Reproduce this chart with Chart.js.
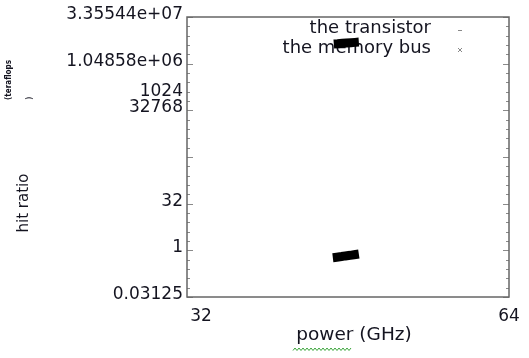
<!DOCTYPE html>
<html>
<head>
<meta charset="utf-8">
<script src="https://cdn.jsdelivr.net/npm/chart.js@4/dist/chart.umd.min.js"></script>
<style>
  html, body { margin: 0; padding: 0; background: #fff; }
</style>
</head>
<body>
<canvas id="chart" width="529" height="358"></canvas>
<script>
// series
const transistorPower = [45.8, 46.2, 46.7, 47.1, 47.6, 48.0, 48.4];
const transistorHits = [4.5e6, 4.6e6, 4.8e6, 4.9e6, 5.0e6, 5.1e6, 5.2e6];
const memoryBusPower = [45.7, 46.1, 46.6, 47.0, 47.5, 47.9, 48.4];
const memoryBusHits = [0.58, 0.60, 0.63, 0.66, 0.69, 0.72, 0.76];

// axis ticks (the "1024" label sits where the original plot put it)
const xTickValues = [32, 64];
const xTickLabels = ['32', '64'];
const yTickValues = [0.03125, 1, 32, 32768, 108700, 1048576, 33554432];
const yTickLabels = ['0.03125', '1', '32', '32768', '1024', '1.04858e+06', '3.35544e+07'];

const FONT = '"DejaVu Sans", sans-serif';
const TEXT = '#141420';

function toPoints(xs, ys) {
  return xs.map((x, i) => ({ x, y: ys[i] }));
}

const decorPlugin = {
  id: 'decor',
  beforeDatasetsDraw(chart) {
    const ctx = chart.ctx;
    ctx.save();
    // legend
    ctx.font = '18px ' + FONT;
    ctx.fillStyle = TEXT;
    ctx.textAlign = 'right';
    ctx.textBaseline = 'alphabetic';
    ctx.fillText('the transistor', 431, 33);
    ctx.fillText('the memory bus', 431, 53);
    ctx.strokeStyle = '#888';
    ctx.lineWidth = 1;
    ctx.beginPath();
    ctx.moveTo(458, 30.5); ctx.lineTo(462, 30.5);
    ctx.moveTo(458, 48); ctx.lineTo(462, 52);
    ctx.moveTo(462, 48); ctx.lineTo(458, 52);
    ctx.stroke();
    ctx.restore();
  },
  afterDraw(chart) {
    const ctx = chart.ctx;
    const area = chart.chartArea;
    const yScale = chart.scales.y;
    ctx.save();

    // inward tick marks, left and right
    ctx.strokeStyle = '#8a8a8a';
    ctx.lineWidth = 1;
    ctx.beginPath();
    for (let e = -5; e <= 25; e++) {
      const py = Math.round(yScale.getPixelForValue(Math.pow(2, e))) + 0.5;
      const len = e % 5 === 0 ? 6 : 3;
      ctx.moveTo(area.left, py); ctx.lineTo(area.left + len, py);
      ctx.moveTo(area.right, py); ctx.lineTo(area.right - len, py);
    }
    ctx.stroke();

    // frame
    ctx.strokeStyle = '#666';
    ctx.lineWidth = 1.5;
    ctx.strokeRect(area.left, area.top, area.right - area.left, area.bottom - area.top);

    // x title
    ctx.fillStyle = TEXT;
    ctx.font = '18.5px ' + FONT;
    ctx.textAlign = 'center';
    ctx.textBaseline = 'alphabetic';
    ctx.fillText('power (GHz)', 354, 340);
    // spell-check squiggle under "power"
    ctx.strokeStyle = '#3aa53a';
    ctx.lineWidth = 1;
    ctx.beginPath();
    for (let x = 293, k = 0; x <= 352; x += 2, k++) {
      const yy = k % 2 ? 348 : 350.5;
      if (k === 0) ctx.moveTo(x, yy); else ctx.lineTo(x, yy);
    }
    ctx.stroke();

    // y title
    ctx.fillStyle = TEXT;
    ctx.translate(24, 203);
    ctx.rotate(-Math.PI / 2);
    ctx.font = '15px ' + FONT;
    ctx.textAlign = 'center';
    ctx.textBaseline = 'middle';
    ctx.fillText('hit ratio', 0, 0);
    ctx.setTransform(1, 0, 0, 1, 0, 0);

    ctx.translate(8.5, 100);
    ctx.rotate(-Math.PI / 2);
    ctx.font = 'bold 8px ' + FONT;
    ctx.textAlign = 'left';
    ctx.textBaseline = 'middle';
    ctx.fillText('(teraflops', 0, 0, 40);
    ctx.font = '9px ' + FONT;
    ctx.fillText(')', 0, 21);
    ctx.restore();
  }
};

new Chart(document.getElementById('chart').getContext('2d'), {
  type: 'line',
  data: {
    datasets: [
      {
        label: 'the transistor',
        data: toPoints(transistorPower, transistorHits),
        borderColor: '#000',
        backgroundColor: '#000',
        borderWidth: 9,
        pointRadius: 0,
        tension: 0
      },
      {
        label: 'the memory bus',
        data: toPoints(memoryBusPower, memoryBusHits),
        borderColor: '#000',
        backgroundColor: '#000',
        borderWidth: 9,
        pointRadius: 0,
        tension: 0
      }
    ]
  },
  options: {
    responsive: false,
    devicePixelRatio: 1,
    animation: false,
    layout: { padding: { left: 0, right: 20, top: 17, bottom: 0 } },
    plugins: {
      legend: { display: false },
      tooltip: { enabled: false }
    },
    scales: {
      x: {
        type: 'linear',
        min: 30.55,
        max: 64,
        grid: { display: false, drawTicks: false },
        border: { display: false },
        afterBuildTicks: (scale) => {
          scale.ticks = xTickValues.map(v => ({ value: v }));
        },
        afterFit: (scale) => { scale.height = 61; },
        ticks: {
          padding: 9,
          maxRotation: 0,
          autoSkip: false,
          font: { family: FONT, size: 17 },
          color: TEXT,
          callback: (v, i) => xTickLabels[i]
        }
      },
      y: {
        type: 'logarithmic',
        min: 0.03125,
        max: 33554432,
        grid: { display: false, drawTicks: false },
        border: { display: false },
        afterBuildTicks: (scale) => {
          scale.ticks = yTickValues.map(v => ({ value: v }));
        },
        afterFit: (scale) => { scale.width = 187; },
        ticks: {
          padding: 4,
          labelOffset: -2.5,
          autoSkip: false,
          font: { family: FONT, size: 17 },
          color: TEXT,
          callback: (v, i) => yTickLabels[i]
        }
      }
    }
  },
  plugins: [decorPlugin]
});
</script>
</body>
</html>
